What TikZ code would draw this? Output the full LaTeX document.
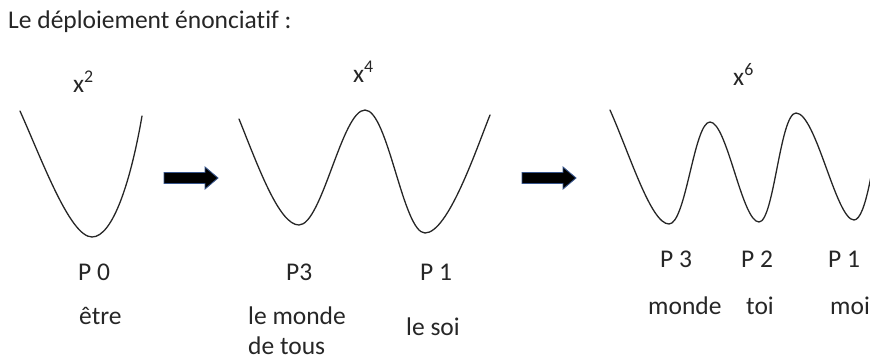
\documentclass[tikz,border=0pt]{standalone}
\usepackage{fontspec}
\setmainfont[Ligatures={NoCommon}]{Carlito}
\begin{document}
\begin{tikzpicture}[x=1pt,y=-1pt,
  curve/.style={line width=1.3pt, draw=black!85, line cap=round},
  lbl/.style={anchor=base west, inner sep=0pt, font=\fontsize{25.5}{30}\selectfont, text=black!85},
  blockarrow/.style={fill=black, draw={rgb,255:red,55;green,85;blue,140}, line width=0.9pt, line join=miter}]
\useasboundingbox (0,0) rectangle (870,359);
\clip (0,0) rectangle (870,359);
% title
\node[lbl] (title) at (8,28) {Le déploiement énonciatif :};
% exponents
\node[lbl] (e2) at (73,92) {x\textsuperscript{2}};
\node[lbl] (e4) at (353,82) {x\textsuperscript{4}};
\node[lbl] (e6) at (733,85) {x\textsuperscript{6}};
% curve 1
\draw[curve] (20,111) .. controls (42,160) and (70,237) .. (92,237)
  .. controls (113,237) and (131,180) .. (142,116);
% curve 2
\draw[curve] (239,119) .. controls (258,166) and (279,225) .. (299,225)
  .. controls (322,225) and (342,110) .. (365,110)
  .. controls (388,110) and (403,233) .. (425,233)
  .. controls (448,233) and (476,150) .. (490,115);
% curve 3
\draw[curve] (610,110) .. controls (630,155) and (651,224) .. (669,224)
  .. controls (686,224) and (694,122) .. (710,122)
  .. controls (727,122) and (742,222) .. (759,222)
  .. controls (774,222) and (780,113) .. (796,113)
  .. controls (816,113) and (836,220) .. (854,220)
  .. controls (866,220) and (874,160) .. (880,120);
% arrows
\coordinate (a1) at (191,178);
\coordinate (a2) at (549,178);
\foreach \c in {a1,a2}{
  \draw[blockarrow] ([shift={(-27,-5.5)}]\c) -- ([shift={(14,-5.5)}]\c) -- ([shift={(14,-11)}]\c)
    -- ([shift={(27,0)}]\c) -- ([shift={(14,11)}]\c) -- ([shift={(14,5.5)}]\c)
    -- ([shift={(-27,5.5)}]\c) -- cycle;
}
% labels group 1
\node[lbl] (p0) at (78,280) {P 0};
\node[lbl] (etre) at (79,324) {être};
% group 2
\node[lbl] (p3a) at (286,280) {P3};
\node[lbl] (monde1) at (248,324) {le monde};
\node[lbl] (tous) at (248,354) {de tous};
\node[lbl] (p1a) at (420,280) {P 1};
\node[lbl] (soi) at (406,335) {le soi};
% group 3
\node[lbl] (p3b) at (660,267) {P 3};
\node[lbl] (p2b) at (741,267) {P 2};
\node[lbl] (p1b) at (828,267) {P 1};
\node[lbl] (monde2) at (648,314) {monde};
\node[lbl] (toi) at (746,314) {toi};
\node[lbl] (moi) at (830,314) {moi};
\end{tikzpicture}
\end{document}
